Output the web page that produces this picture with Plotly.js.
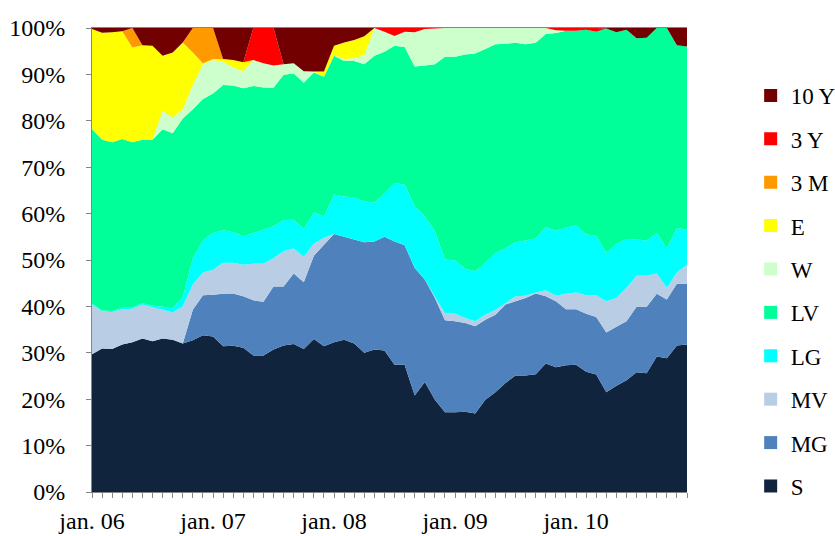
<!DOCTYPE html>
<html>
<head>
<meta charset="utf-8">
<script src="https://cdn.plot.ly/plotly-3.0.1.min.js"></script>
<style>
html,body{margin:0;padding:0;background:#fff;}
#chart{width:835px;height:536px;}
</style>
</head>
<body>
<div id="chart"></div>
<script>
// ---- categories (monthly, jan. 06 – dec. 10) ----
const years = ['06','07','08','09','10'];
const monthNames = ['jan.','feb.','mar.','apr.','maj','jun.','jul.','aug.','sep.','okt.','nov.','dec.'];
const months = [];
years.forEach(y => monthNames.forEach(m => months.push(m + ' ' + y)));
const tickLabelMonth = 'jan.';

// ---- series values (% of portfolio) ----
const S = [29.7,30.9,30.8,31.8,32.3,33.1,32.5,33.1,32.8,32.0,
           32.7,33.8,33.5,31.4,31.5,31.1,29.4,29.4,30.7,31.6,
           31.9,30.8,33.0,31.4,32.3,32.8,32.0,30.0,30.7,30.5,
           27.4,27.4,20.8,23.7,19.9,17.2,17.2,17.3,16.9,19.9,
           21.5,23.5,25.1,25.1,25.4,27.7,26.9,27.3,27.4,25.9,
           25.3,21.5,22.9,24.1,25.8,25.6,29.2,28.8,31.6,31.8];
const MG = [0,0,0,0,0,0,0,0,0,0,
            6.6,8.6,9.0,11.3,11.3,11.1,11.9,11.6,13.6,12.7,
            15.2,14.4,17.9,21.9,23.3,22.2,22.4,23.8,23.3,24.5,
            26.6,25.8,27.5,22.1,21.9,19.8,19.6,19.1,18.8,17.2,
            16.7,16.9,16.0,16.7,17.4,14.5,14.2,12.1,12.0,12.5,
            12.4,12.9,12.7,12.7,14.1,14.3,13.5,12.7,13.3,13.1];
const MV = [10.7,8.0,8.0,7.6,7.2,7.3,7.3,6.2,5.9,8.0,
            5.4,4.9,5.4,6.7,6.6,6.8,7.9,8.2,6.1,7.6,
            5.4,5.5,2.6,1.5,0,0,0,0,0,0,
            0,0,0,0,0.3,1.6,1.6,1.1,1.1,1.1,
            1.0,0.3,1.1,0.5,0.2,1.3,1.2,3.3,3.6,4.0,
            4.7,6.7,6.2,7.2,6.7,6.7,4.4,2.5,2.4,4.1];
const LG = [0.2,0.2,0.2,0.3,0.3,0.3,0.4,0.6,0.9,2.0,
            5.7,6.9,7.9,7.0,6.6,6.1,6.6,7.3,6.9,6.7,
            6.2,6.0,6.8,4.6,8.5,8.7,9.1,8.8,8.4,9.4,
            12.6,13.0,13.3,13.6,14.1,11.5,11.5,10.6,10.8,11.2,
            12.3,11.9,11.6,11.9,11.7,13.6,14.0,14.3,14.5,13.1,
            12.8,10.4,11.7,10.5,7.8,7.6,8.7,8.6,9.6,7.5];
const LV = [37.6,36.8,36.4,36.4,35.6,35.2,35.7,38.3,37.7,38.5,
            32.1,30.5,30.1,31.3,31.6,31.9,31.7,30.7,29.8,31.3,
            31.5,31.5,30.1,30.1,29.9,29.2,29.4,29.6,31.6,30.5,
            29.6,29.7,30.1,32.5,36.0,43.7,43.9,46.2,46.9,46.1,
            45.0,44.0,43.0,42.3,42.1,41.6,42.6,42.4,41.9,44.1,
            44.0,48.4,45.6,45.1,43.4,43.7,44.2,47.4,39.4,39.5];
const W = [0,0,0,0,0,0,0,3.9,3.4,2.0,
           5.2,7.5,7.2,5.0,3.9,3.7,5.6,5.2,4.8,2.3,
           2.2,2.5,0.2,0,0.1,0.4,0.6,2.0,6.0,4.3,
           2.1,3.3,7.4,7.9,7.7,6.2,6.2,5.7,5.5,4.5,
           3.5,3.4,3.2,3.5,3.2,1.3,0.6,0,0,0,
           0,0,0,0,0,0,0,0,0,0];
const E = [21.6,23.1,23.7,23.2,20.4,20.4,20.3,11.9,14.0,14.4,
           7.0,0.2,0.2,0.6,1.6,1.9,0,0,0,0,
           0,0,0,1.1,2.1,3.6,3.9,4.0,0,0,
           0,0,0,0,0,0,0,0,0,0,
           0,0,0,0,0,0,0,0,0,0,
           0,0,0,0,0,0,0,0,0,0];
const M3 = [0,0,0,0,4.2,0,0,0,0,0,
            5.3,7.6,6.7,0,0,0,0,0,0,0,
            0,0,0,0,0,0,0,0,0,0,
            0,0,0,0,0,0,0,0,0,0,
            0,0,0,0,0,0,0,0,0,0,
            0,0,0,0,0,0,0,0,0,0];
const Y3 = [0,0,0,0,0,0,0,0,0,0,
            0,0,0,0,0,0,6.9,7.6,8.1,0,
            0,0,0,0,0,0,0,0,0,0.8,
            1.7,0.8,0.9,0.2,0.1,0,0,0,0,0,
            0,0,0,0,0,0,0.5,0.6,0.6,0.4,
            0.8,0,0,0,0,0,0,0,0,0];
const Y10 = [0.2,1.0,0.9,0.7,0,3.7,3.8,6.0,5.3,3.1,
             0,0,0,6.7,6.9,7.4,0,0,0,7.8,
             7.6,9.3,9.4,9.4,3.8,3.1,2.6,1.8,0,0,
             0,0,0,0,0,0,0,0,0,0,
             0,0,0,0,0,0,0,0,0,0,
             0,0.1,0.9,0.4,2.2,2.1,0,0,3.7,4.0];

const seriesNames = ['S','MG','MV','LG','LV','W','E','3 M','3 Y','10 Y'];
const seriesValues = [S, MG, MV, LG, LV, W, E, M3, Y3, Y10];
const seriesColors = ['#10243e','#4f81bd','#b9cde5','#00ffff','#00ff99','#ccffcc','#ffff00','#ff9900','#ff0000','#720000'];

const FONT = 'Times New Roman, Liberation Serif, serif';

const traces = [];
seriesNames.forEach((name, k) => {
  traces.push({
    type: 'scatter', x: months, y: seriesValues[k], name: name,
    stackgroup: 'one', groupnorm: k === 0 ? 'percent' : undefined,
    mode: 'none', fillcolor: seriesColors[k], line: {width: 0},
    showlegend: false, hoverinfo: 'x+y+name'
  });
});
// legend entries (square swatches), listed top-down from the last series
for (let k = seriesNames.length - 1; k >= 0; k--) {
  traces.push({
    type: 'scatter', x: [null], y: [null], name: seriesNames[k], mode: 'markers',
    marker: {symbol: 'square', size: 13, color: seriesColors[k]},
    legendgroup: 'g' + k, showlegend: true, hoverinfo: 'skip'
  });
}

const layout = {
  width: 835, height: 536,
  margin: {l: 92, r: 148, t: 28, b: 44, pad: 0, autoexpand: false},
  paper_bgcolor: '#ffffff', plot_bgcolor: '#ffffff',
  font: {family: FONT, size: 24, color: '#000000'},
  showlegend: true,
  legend: {
    x: 1.107, xanchor: 'left', y: 0.901, yanchor: 'top',
    traceorder: 'grouped', tracegroupgap: 10.5,
    font: {family: FONT, size: 23, color: '#000'},
    bgcolor: 'rgba(0,0,0,0)', itemclick: false
  },
  xaxis: {
    type: 'category', range: [0, months.length - 1],
    tickmode: 'array', tickvals: months,
    ticktext: months.map(m => m.startsWith(tickLabelMonth) ? m : ''),
    ticks: 'outside', ticklen: 5, tickwidth: 1, tickcolor: '#868686',
    showline: true, linecolor: '#868686', linewidth: 1, mirror: true,
    showgrid: false, zeroline: false, ticklabelstandoff: 2,
    tickfont: {family: FONT, size: 24, color: '#000'}
  },
  yaxis: {
    range: [0, 100], tickmode: 'linear', tick0: 0, dtick: 10, ticksuffix: '%',
    ticks: 'outside', ticklen: 5, tickwidth: 1, tickcolor: '#868686',
    showline: true, linecolor: '#868686', linewidth: 1,
    showgrid: false, zeroline: false, ticklabelstandoff: 16,
    tickfont: {family: FONT, size: 24, color: '#000'}
  }
};

Plotly.newPlot('chart', traces, layout, {displayModeBar: false, staticPlot: true});
</script>
</body>
</html>
